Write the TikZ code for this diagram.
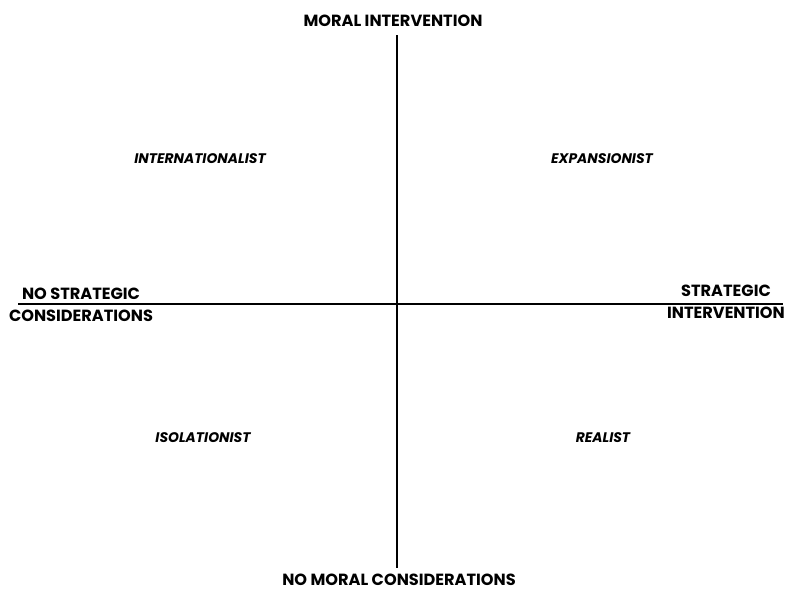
\documentclass[tikz,border=0pt]{standalone}
\usepackage{fontspec}
\setmainfont{Poppins}
\usepackage{tikz}
\usetikzlibrary{positioning}

\begin{document}
\begin{tikzpicture}[
    x=0.2mm, y=-0.2mm,
    axis/.style={line width=1.1pt, black},
    pole/.style={font=\fontsize{9.2}{12.5}\selectfont\bfseries, align=center, inner sep=0pt},
    quad/.style={font=\fontsize{7.9}{9.5}\selectfont\bfseries\itshape, inner sep=0pt}
]
    \useasboundingbox (0,0) rectangle (785,592);

    % Axis ends
    \coordinate (top) at (397, 35);
    \coordinate (bot) at (397, 568);
    \coordinate (lft) at (18, 304);
    \coordinate (rgt) at (783, 304);

    % Axes
    \draw[axis] (top) -- (bot);
    \draw[axis] (lft) -- (rgt);

    % Pole labels
    \node[pole] (moral)   at (393, 21)  {MORAL INTERVENTION};
    \node[pole] (nomoral) at (399, 580) {NO MORAL CONSIDERATIONS};
    \node[pole] (nostrat) at (81, 305)  {NO STRATEGIC\\CONSIDERATIONS};
    \node[pole] (strat)   at (726, 302) {STRATEGIC\\INTERVENTION};

    % Quadrants
    \node[quad] (intl) at (200, 159) {INTERNATIONALIST};
    \node[quad] (expa) at (602, 159) {EXPANSIONIST};
    \node[quad] (isol) at (203, 438) {ISOLATIONIST};
    \node[quad] (real) at (603, 438) {REALIST};
\end{tikzpicture}
\end{document}
